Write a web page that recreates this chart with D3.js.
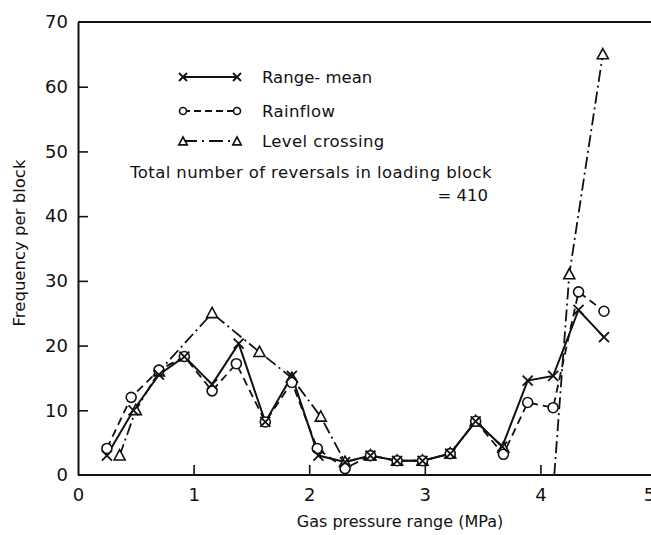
<!DOCTYPE html>
<html>
<head>
<meta charset="utf-8">
<script src="https://cdn.jsdelivr.net/npm/d3@7"></script>
<style>
  html, body { margin: 0; padding: 0; background: #fff; }
  svg { display: block; }
  text { font-family: "DejaVu Sans", sans-serif; fill: #111; }
</style>
</head>
<body>
<svg id="chart" width="651" height="535"></svg>
<script>
// Frequency per block by gas pressure range, three cycle-counting methods
const rangeMeanX = [0.25, 0.48, 0.70, 0.92, 1.16, 1.39, 1.62, 1.85, 2.08, 2.31, 2.53, 2.76, 2.98, 3.22, 3.44, 3.67, 3.89, 4.11, 4.33, 4.55];
const rangeMeanY = [3, 10, 15.5, 18.3, 14, 20.3, 8.2, 15.3, 3, 2, 3, 2.2, 2.2, 3.3, 8.3, 4.4, 14.6, 15.3, 25.5, 21.3];

const rainflowX = [0.25, 0.46, 0.70, 0.92, 1.16, 1.37, 1.62, 1.85, 2.07, 2.31, 2.53, 2.76, 2.98, 3.22, 3.44, 3.68, 3.89, 4.11, 4.33, 4.55];
const rainflowY = [4.1, 12, 16.2, 18.3, 13, 17.2, 8.2, 14.3, 4.1, 1, 3, 2.2, 2.2, 3.3, 8.3, 3.2, 11.2, 10.4, 28.3, 25.3];

// null breaks the level-crossing curve; its second branch rises from the axis
const levelX = [0.36, 0.50, 0.70, 1.16, 1.57, 1.85, 2.10, 2.31, 2.53, 2.76, 2.98, 3.22, 3.44, 3.68, 3.90, 4.12, 4.25, 4.54];
const levelY = [3, 10, 16, 25, 19, 15, 9, 2, 3, 2.2, 2.2, 3.3, 8.3, 4.2, null, 0, 31, 65];

const xTicks = [0, 1, 2, 3, 4, 5];
const yTicks = [0, 10, 20, 30, 40, 50, 60, 70];

const legendItems = ["Range- mean", "Rainflow", "Level crossing"];
const noteLines = ["Total number of reversals in loading block", "= 410"];

const svg = d3.select("#chart");
const plotLeft = 78, plotRight = 656, plotTop = 22, plotBottom = 475;

const x = d3.scaleLinear().domain([0, 5]).range([plotLeft, plotRight]);
const y = d3.scaleLinear().domain([0, 70]).range([plotBottom, plotTop]);

const ink = "#111";

// frame: top rule running off to the right edge
svg.append("line")
  .attr("x1", plotLeft).attr("x2", 651).attr("y1", plotTop).attr("y2", plotTop)
  .attr("stroke", ink).attr("stroke-width", 2);

const xAxis = svg.append("g")
  .attr("transform", `translate(0,${plotBottom})`)
  .call(d3.axisBottom(x).tickValues(xTicks).tickFormat(d3.format("d"))
    .tickSizeInner(-10).tickSizeOuter(0).tickPadding(13));
xAxis.select(".domain").attr("stroke", ink).attr("stroke-width", 2)
  .attr("d", `M${plotLeft},0H651`);
xAxis.selectAll(".tick line").attr("stroke", ink).attr("stroke-width", 1.6);
xAxis.selectAll(".tick text").attr("font-family", "DejaVu Sans").attr("font-size", 18).attr("fill", ink);
xAxis.selectAll(".tick").filter(d => d === 0).select("line").remove();
// the last label sits against the right edge of the page
xAxis.selectAll(".tick").filter(d => d === 5).select("text").attr("dx", -7);

const yAxis = svg.append("g")
  .attr("transform", `translate(${plotLeft},0)`)
  .call(d3.axisLeft(y).tickValues(yTicks).tickFormat(d3.format("d"))
    .tickSizeInner(-10).tickSizeOuter(0).tickPadding(10));
yAxis.select(".domain").attr("stroke", ink).attr("stroke-width", 2);
yAxis.selectAll(".tick line").attr("stroke", ink).attr("stroke-width", 1.6);
yAxis.selectAll(".tick text").attr("font-family", "DejaVu Sans").attr("font-size", 18).attr("fill", ink);
yAxis.selectAll(".tick").filter(d => d === 0 || d === 70).select("line").remove();

// axis titles
svg.append("text")
  .attr("x", 400).attr("y", 527)
  .attr("text-anchor", "middle").attr("font-size", 16)
  .text("Gas pressure range (MPa)");
svg.append("text")
  .attr("transform", "translate(25,243) rotate(-90)")
  .attr("text-anchor", "middle").attr("font-size", 16.5)
  .text("Frequency per block");

const line = d3.line()
  .defined(d => d[1] !== null)
  .x(d => x(d[0])).y(d => y(d[1]));

const zip = (xs, ys) => xs.map((v, i) => [v, ys[i]]);
const rangeMean = zip(rangeMeanX, rangeMeanY);
const rainflow = zip(rainflowX, rainflowY);
const level = zip(levelX, levelY);

const dashRain = "8,5";
const dashLevel = "12,4,2,4";

svg.append("path").datum(level)
  .attr("d", line).attr("fill", "none").attr("stroke", ink)
  .attr("stroke-width", 1.8).attr("stroke-dasharray", dashLevel);
svg.append("path").datum(rainflow)
  .attr("d", line).attr("fill", "none").attr("stroke", ink)
  .attr("stroke-width", 1.8).attr("stroke-dasharray", dashRain);
svg.append("path").datum(rangeMean)
  .attr("d", line).attr("fill", "none").attr("stroke", ink)
  .attr("stroke-width", 2);

// marker shapes
function drawCross(g, cx, cy, s) {
  g.append("path")
    .attr("d", `M${cx - s},${cy - s}L${cx + s},${cy + s}M${cx - s},${cy + s}L${cx + s},${cy - s}`)
    .attr("stroke", ink).attr("stroke-width", 1.8).attr("fill", "none");
}
function drawCircle(g, cx, cy, r) {
  g.append("circle").attr("cx", cx).attr("cy", cy).attr("r", r)
    .attr("fill", "#fff").attr("stroke", ink).attr("stroke-width", 1.6);
}
function drawTriangle(g, cx, cy, s) {
  const h = s * 0.9;
  g.append("path")
    .attr("d", `M${cx},${cy - h}L${cx + s * 0.85},${cy + h * 0.75}L${cx - s * 0.85},${cy + h * 0.75}Z`)
    .attr("fill", "#fff").attr("stroke", ink).attr("stroke-width", 1.6);
}

const marks = svg.append("g");
level.filter(d => d[1] !== null && d[1] > 0)
  .forEach(d => drawTriangle(marks, x(d[0]), y(d[1]), 6.5));
rainflow.forEach(d => drawCircle(marks, x(d[0]), y(d[1]), 5));
rangeMean.forEach(d => drawCross(marks, x(d[0]), y(d[1]), 5));

// legend
const legend = svg.append("g");
const legX1 = 183, legX2 = 237, legText = 262;
const legRows = [77, 111, 141];
legend.append("line").attr("x1", legX1).attr("x2", legX2)
  .attr("y1", legRows[0]).attr("y2", legRows[0])
  .attr("stroke", ink).attr("stroke-width", 2);
drawCross(legend, legX1, legRows[0], 4);
drawCross(legend, legX2, legRows[0], 4);

legend.append("line").attr("x1", legX1).attr("x2", legX2)
  .attr("y1", legRows[1]).attr("y2", legRows[1])
  .attr("stroke", ink).attr("stroke-width", 1.8).attr("stroke-dasharray", "7,4");
drawCircle(legend, legX1, legRows[1], 3.5);
drawCircle(legend, legX2, legRows[1], 3.5);

legend.append("line").attr("x1", legX1).attr("x2", legX2)
  .attr("y1", legRows[2]).attr("y2", legRows[2])
  .attr("stroke", ink).attr("stroke-width", 1.8).attr("stroke-dasharray", "14,5,2,5");
drawTriangle(legend, legX1, legRows[2] + 0.5, 5);
drawTriangle(legend, legX2, legRows[2] + 0.5, 5);

legend.selectAll("text.leg").data(legendItems).join("text")
  .attr("class", "leg")
  .attr("x", legText).attr("y", (d, i) => legRows[i])
  .attr("dy", "0.36em").attr("font-size", 16.5)
  .attr("letter-spacing", (d, i) => i === 0 ? 0 : 0.4)
  .text(d => d);

svg.append("text")
  .attr("x", 492).attr("y", 172).attr("dy", "0.36em")
  .attr("text-anchor", "end").attr("font-size", 16.5).attr("letter-spacing", 0.4)
  .text(noteLines[0]);
svg.append("text")
  .attr("x", 488).attr("y", 195).attr("dy", "0.36em")
  .attr("text-anchor", "end").attr("font-size", 16.5)
  .text(noteLines[1]);
</script>
</body>
</html>
